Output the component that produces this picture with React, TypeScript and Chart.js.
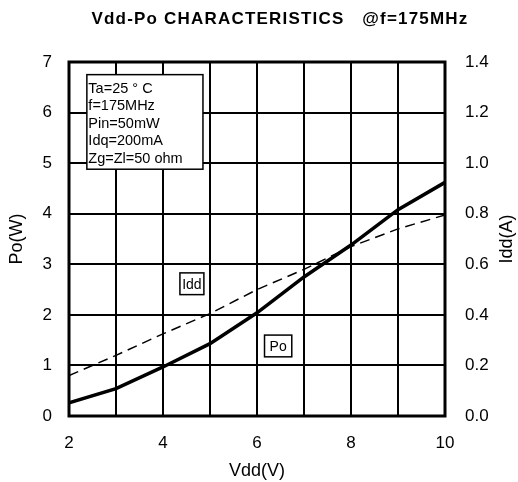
import React, { useEffect, useRef } from "react";
import { Chart, registerables } from "chart.js";

Chart.register(...registerables);

const vdd = [2, 3, 4, 5, 6, 7, 8, 9, 10];
const po = [0.26, 0.54, 0.97, 1.43, 2.04, 2.75, 3.38, 4.08, 4.62];
const idd = [0.16, 0.24, 0.325, 0.405, 0.5, 0.58, 0.67, 0.74, 0.795];
const titleText = "Vdd-Po CHARACTERISTICS   @f=175MHz";
const rightTitle = "Idd(A)";
const conditions = ["Ta=25 ° C", "f=175MHz", "Pin=50mW", "Idq=200mA", "Zg=Zl=50 ohm"];
// annotation boxes in data units: [x1, x2, yTop, yBottom]
const condBox = [2.38, 4.85, 6.75, 4.88];
const iddLabel = { text: "Idd", box: [4.36, 4.87, 2.83, 2.4] };
const poLabel = { text: "Po", box: [6.16, 6.74, 1.6, 1.17] };

const FONT = "'Liberation Sans', Arial, sans-serif";

const overlay = {
  id: "overlay",
  afterDraw(chart: any) {
    const { ctx, chartArea } = chart;
    const xs = chart.scales.x;
    const ys = chart.scales.y;
    ctx.save();
    // title
    ctx.fillStyle = "#000";
    ctx.font = `bold 17px ${FONT}`;
    ctx.textAlign = "center";
    ctx.textBaseline = "middle";
    try { (ctx as any).letterSpacing = "1.2px"; } catch (e) {}
    ctx.fillText(titleText, 280, 19);
    try { (ctx as any).letterSpacing = "0px"; } catch (e) {}
    // right axis title, reading bottom-to-top
    ctx.save();
    ctx.font = `18px ${FONT}`;
    ctx.translate(507, (chartArea.top + chartArea.bottom) / 2);
    ctx.rotate(-Math.PI / 2);
    ctx.textAlign = "center";
    ctx.textBaseline = "middle";
    ctx.fillText(rightTitle, 0, 0);
    ctx.restore();
    // frame
    ctx.strokeStyle = "#000";
    ctx.lineWidth = 3;
    ctx.strokeRect(chartArea.left, chartArea.top, chartArea.right - chartArea.left, chartArea.bottom - chartArea.top);
    // boxes
    const drawBox = (b: number[]) => {
      const x1 = xs.getPixelForValue(b[0]);
      const x2 = xs.getPixelForValue(b[1]);
      const y1 = ys.getPixelForValue(b[2]);
      const y2 = ys.getPixelForValue(b[3]);
      ctx.fillStyle = "#fff";
      ctx.fillRect(x1, y1, x2 - x1, y2 - y1);
      ctx.lineWidth = 1.5;
      ctx.strokeStyle = "#000";
      ctx.strokeRect(x1, y1, x2 - x1, y2 - y1);
      return [x1, y1, x2, y2];
    };
    const [cx1, cy1] = drawBox(condBox);
    ctx.fillStyle = "#000";
    ctx.font = `14.5px ${FONT}`;
    ctx.textAlign = "left";
    ctx.textBaseline = "middle";
    conditions.forEach((t, i) => ctx.fillText(t, cx1 + 1.5, cy1 + 14 + i * 17.5));
    for (const l of [iddLabel, poLabel]) {
      const [x1, y1, x2, y2] = drawBox(l.box);
      ctx.fillStyle = "#000";
      ctx.font = `14px ${FONT}`;
      ctx.textAlign = "center";
      ctx.fillText(l.text, (x1 + x2) / 2, (y1 + y2) / 2 + 1);
    }
    ctx.restore();
  },
};

export default function App() {
  const ref = useRef<HTMLCanvasElement>(null);
  useEffect(() => {
    const tickFont = { family: FONT, size: 17 };
    const titleFont = { family: FONT, size: 18 };
    const chart = new Chart(ref.current!, {
      type: "line",
      data: {
        datasets: [
          {
            label: "Po",
            data: vdd.map((x, i) => ({ x, y: po[i] })),
            borderColor: "#000",
            borderWidth: 3.5,
            pointRadius: 0,
            tension: 0,
            yAxisID: "y",
          },
          {
            label: "Idd",
            data: vdd.map((x, i) => ({ x, y: idd[i] })),
            borderColor: "#000",
            borderWidth: 1.5,
            borderDash: [10, 6],
            pointRadius: 0,
            tension: 0,
            yAxisID: "y2",
          },
        ],
      },
      options: {
        responsive: false,
        animation: false,
        layout: { padding: { top: 62, left: 0, right: 0, bottom: 0 } },
        plugins: { legend: { display: false }, tooltip: { enabled: false } },
        scales: {
          x: {
            type: "linear",
            min: 2,
            max: 10,
            ticks: {
              stepSize: 1,
              color: "#000",
              font: tickFont,
              padding: 17,
              maxRotation: 0,
              callback: (v: any) => (Number(v) % 2 === 0 ? String(v) : ""),
            },
            grid: { color: "#000", lineWidth: 2, drawTicks: false },
            border: { display: false },
            title: { display: true, text: "Vdd(V)", color: "#000", font: titleFont, padding: { top: 1, bottom: 0 } },
            afterFit: (s: any) => { s.height = 66; },
          },
          y: {
            position: "left",
            min: 0,
            max: 7,
            ticks: { stepSize: 1, color: "#000", font: tickFont, padding: 17 },
            grid: { color: "#000", lineWidth: 2, drawTicks: false },
            border: { display: false },
            title: { display: true, text: "Po(W)", color: "#000", font: titleFont, padding: { top: 6, bottom: 0 } },
            afterFit: (s: any) => { s.width = 69; },
          },
          y2: {
            position: "right",
            min: 0,
            max: 1.4,
            ticks: { stepSize: 0.2, color: "#000", font: tickFont, padding: 20, callback: (v: any) => Number(v).toFixed(1) },
            grid: { display: false, drawTicks: false },
            border: { display: false },
            title: { display: false },
            afterFit: (s: any) => { s.width = 73; },
          },
        },
      },
      plugins: [overlay],
    } as any);
    return () => chart.destroy();
  }, []);
  return (
    <div style={{ position: "fixed", left: 0, top: 0, width: 518, height: 482, background: "#fff" }}>
      <canvas ref={ref} width={518} height={482} style={{ display: "block" }} />
    </div>
  );
}
